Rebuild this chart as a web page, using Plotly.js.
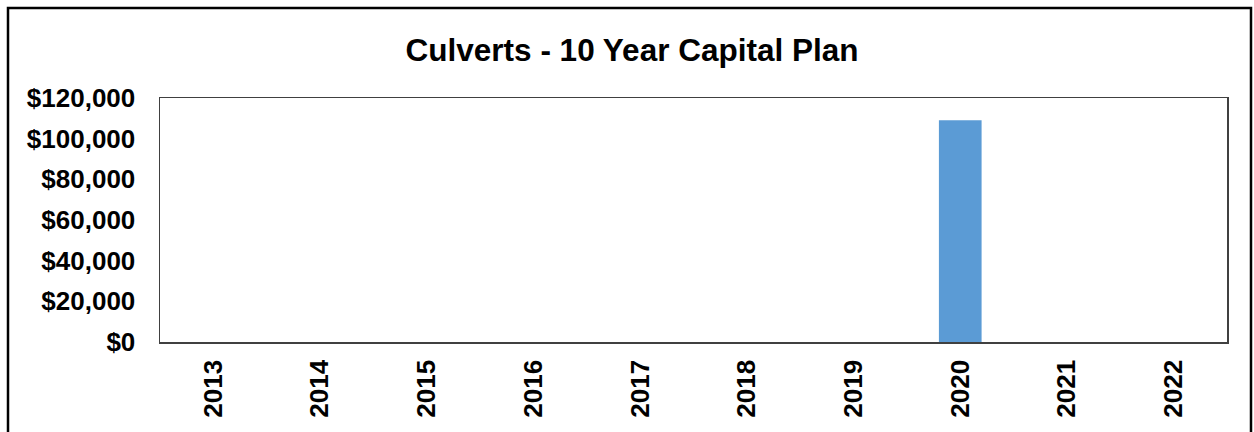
<!DOCTYPE html>
<html>
<head>
<meta charset="utf-8">
<script src="https://cdn.plot.ly/plotly-3.0.1.min.js"></script>
<style>
  html, body { margin: 0; padding: 0; background: #ffffff; }
  #chart { width: 1254px; height: 432px; }
</style>
</head>
<body>
<div id="chart"></div>
<script>
// Data
const years = ["2013", "2014", "2015", "2016", "2017", "2018", "2019", "2020", "2021", "2022"];
const capitalCost = [0, 0, 0, 0, 0, 0, 0, 109000, 0, 0];
const yTickValues = [0, 20000, 40000, 60000, 80000, 100000, 120000];
const yTickLabels = ["$0", "$20,000", "$40,000", "$60,000", "$80,000", "$100,000", "$120,000"];
const chartTitle = "Culverts - 10 Year Capital Plan";

const W = 1254, H = 432;
const mL = 160, mR = 27, mT = 98, mB = 90;
const plotW = W - mL - mR, plotH = H - mT - mB;
// outer frame in pixel coordinates -> paper coordinates
function px2x(px) { return (px - mL) / plotW; }
function py2y(py) { return (H - mB - py) / plotH; }

const font = "Liberation Sans, Arial, sans-serif";

const trace = {
  type: "bar",
  x: years,
  y: capitalCost,
  marker: { color: "#5B9BD5", line: { width: 0 } },
  hoverinfo: "x+y"
};

const layout = {
  width: W,
  height: H,
  margin: { l: mL, r: mR, t: mT, b: mB, pad: 0 },
  paper_bgcolor: "#ffffff",
  plot_bgcolor: "#ffffff",
  showlegend: false,
  bargap: 0.6,
  title: {
    text: chartTitle,
    x: 0.504,
    xanchor: "center",
    xref: "container",
    y: 1 - 50 / H,
    yanchor: "middle",
    yref: "container",
    font: { family: font, size: 31.5, color: "#000000", weight: "bold" }
  },
  xaxis: {
    type: "category",
    tickangle: -90,
    tickfont: { family: font, size: 26, color: "#000000", weight: "bold" },
    ticks: "",
    ticklabelstandoff: 6,
    showgrid: false,
    zeroline: false,
    showline: true,
    linecolor: "#404040",
    linewidth: 1.5,
    mirror: true,
    fixedrange: true
  },
  yaxis: {
    range: [0, 120000],
    tickmode: "array",
    tickvals: yTickValues,
    ticktext: yTickLabels,
    tickfont: { family: font, size: 26, color: "#000000", weight: "bold" },
    ticks: "",
    ticklabelstandoff: 18,
    showgrid: false,
    zeroline: false,
    showline: true,
    linecolor: "#404040",
    linewidth: 1.5,
    mirror: true,
    fixedrange: true
  },
  shapes: [
    {
      type: "rect",
      xref: "paper", yref: "paper",
      x0: px2x(8), x1: px2x(1251),
      y0: py2y(445), y1: py2y(8),
      line: { color: "#000000", width: 2.5 },
      fillcolor: "rgba(0,0,0,0)",
      layer: "below"
    }
  ]
};

Plotly.newPlot("chart", [trace], layout, { displayModeBar: false, staticPlot: true });
</script>
</body>
</html>
